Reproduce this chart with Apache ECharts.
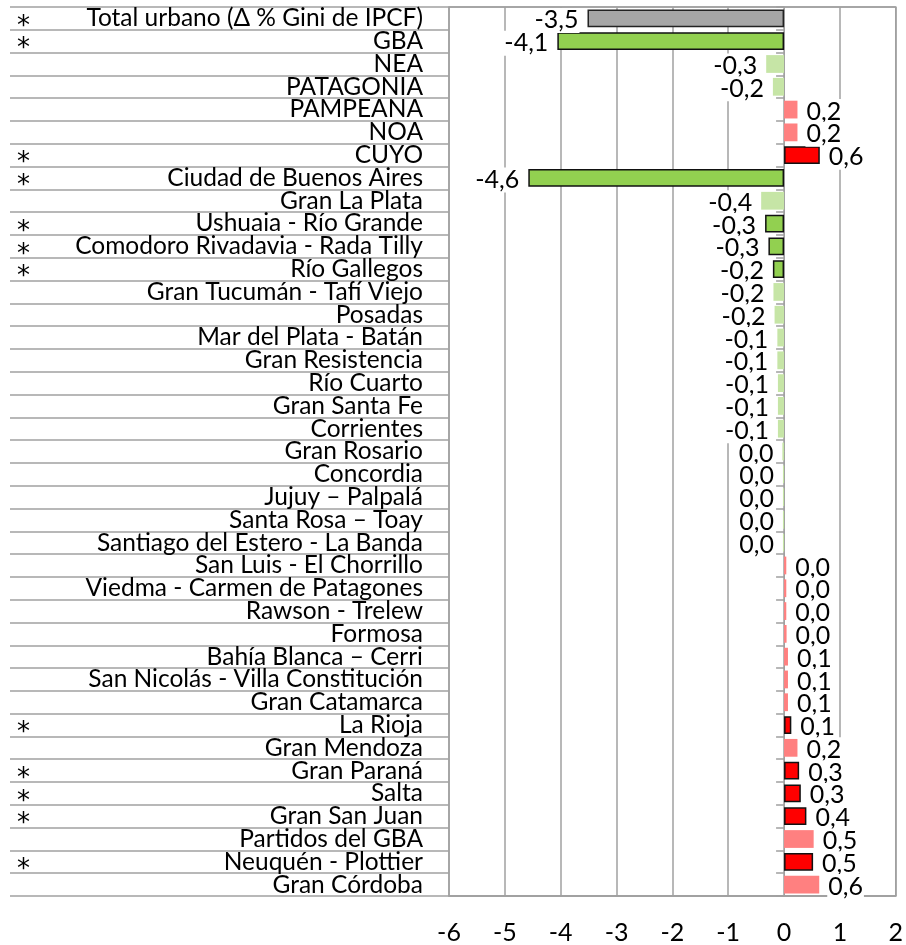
<!DOCTYPE html>
<html><head><meta charset="utf-8">
<script src="https://cdn.jsdelivr.net/npm/echarts@6/dist/echarts.min.js"></script>
<style>html,body{margin:0;padding:0;background:#fff}#c{width:906px;height:945px}</style>
</head><body><div id="c"></div>
<script>
const categories = [
  "Total urbano (Δ % Gini de IPCF)","GBA","NEA","PATAGONIA","PAMPEANA","NOA","CUYO",
  "Ciudad de Buenos Aires","Gran La Plata","Ushuaia - Río Grande","Comodoro Rivadavia - Rada Tilly",
  "Río Gallegos","Gran Tucumán - Tafí Viejo","Posadas","Mar del Plata - Batán","Gran Resistencia",
  "Río Cuarto","Gran Santa Fe","Corrientes","Gran Rosario","Concordia","Jujuy – Palpalá",
  "Santa Rosa – Toay","Santiago del Estero - La Banda","San Luis - El Chorrillo",
  "Viedma - Carmen de Patagones","Rawson - Trelew","Formosa","Bahía Blanca – Cerri",
  "San Nicolás - Villa Constitución","Gran Catamarca","La Rioja","Gran Mendoza","Gran Paraná",
  "Salta","Gran San Juan","Partidos del GBA","Neuquén - Plottier","Gran Córdoba"
];
const values = [
  -3.52,-4.06,-0.32,-0.2,0.24,0.24,0.64,
  -4.58,-0.41,-0.34,-0.28,
  -0.2,-0.19,-0.17,-0.12,-0.12,
  -0.11,-0.11,-0.11,-0.03,-0.02,-0.02,
  -0.02,-0.02,0.04,
  0.04,0.04,0.045,0.07,
  0.07,0.07,0.13,0.24,0.27,
  0.3,0.4,0.53,0.52,0.63
];
const significant = [
  1,1,0,0,0,0,1,
  1,0,1,1,
  1,0,0,0,0,
  0,0,0,0,0,0,
  0,0,0,
  0,0,0,0,
  0,0,1,0,1,
  1,1,0,1,0
];
const xTicks = [-6,-5,-4,-3,-2,-1,0,1,2];

const FONT = 'Lato';
const GRID_LINE = '#a0a0a0';
function fmt(v){
  let s = v.toFixed(1);
  if (s === '-0.0') s = '0.0';
  return s.replace('.', ',');
}
function styleFor(i, v){
  const sig = significant[i] === 1;
  if (i === 0) return {color:'#a6a6a6', borderColor:'#222', borderWidth:1.5};
  if (v < 0) return sig ? {color:'#92d050', borderColor:'#111', borderWidth:1.5} : {color:'#c6e5a6', borderWidth:0};
  return sig ? {color:'#ff0000', borderColor:'#111', borderWidth:1.5} : {color:'#ff8080', borderWidth:0};
}
const barData = values.map((v,i)=>({
  value: v,
  itemStyle: styleFor(i,v),
  label: {position: v < 0 ? 'left' : 'right'}
}));

const chart = echarts.init(document.getElementById('c'), null, {renderer:'canvas'});
chart.setOption({
  animation:false,
  backgroundColor:'#fff',
  grid:[
    {left:449, right:8, top:7, bottom:49, show:true, borderColor:GRID_LINE, borderWidth:1.5, backgroundColor:'transparent'},
    {left:10, right:457, top:7, bottom:49}
  ],
  xAxis:[
    {gridIndex:0, type:'value', min:xTicks[0], max:xTicks[xTicks.length-1], interval:1,
     axisLine:{show:true, onZero:false, lineStyle:{color:GRID_LINE, width:1.5}},
     axisTick:{show:false},
     splitLine:{show:true, lineStyle:{color:GRID_LINE, width:1.5}},
     axisLabel:{color:'#000', fontFamily:FONT, fontSize:25, margin:24}},
    {gridIndex:1, type:'value', min:0, max:1, show:false}
  ],
  yAxis:[
    {gridIndex:0, type:'category', data:categories, inverse:true,
     axisLine:{show:true, onZero:true, lineStyle:{color:GRID_LINE, width:1}},
     axisTick:{show:true, interval:0, length:8, lineStyle:{color:GRID_LINE, width:1.5}},
     axisLabel:{show:false},
     splitLine:{show:true, interval:(idx)=>idx===7, lineStyle:{color:GRID_LINE, width:1.5}}},
    {gridIndex:1, type:'category', data:categories, inverse:true, position:'right',
     axisLine:{show:false}, axisTick:{show:false},
     axisLabel:{inside:true, interval:0, margin:26, color:'#000', fontFamily:FONT, fontSize:24.5},
     splitLine:{show:true, interval:0, lineStyle:{color:GRID_LINE, width:1.5}}},
    {gridIndex:1, type:'category', data:significant.map(s=>s?'*':''), inverse:true, position:'left',
     axisLine:{show:false}, axisTick:{show:false},
     axisLabel:{inside:true, interval:0, margin:7, color:'#000', fontFamily:'DejaVu Sans', fontSize:26, verticalAlign:'top', lineHeight:17},
     splitLine:{show:false}}
  ],
  series:[{
    type:'bar', xAxisIndex:0, yAxisIndex:0, data:barData, barWidth:'78%',
    label:{show:true, distance:8, formatter:p=>fmt(p.value), color:'#000',
      fontFamily:FONT, fontSize:25, backgroundColor:'#fff', padding:[0,1], offset:[0,2]}
  }]
});
</script></body></html>
